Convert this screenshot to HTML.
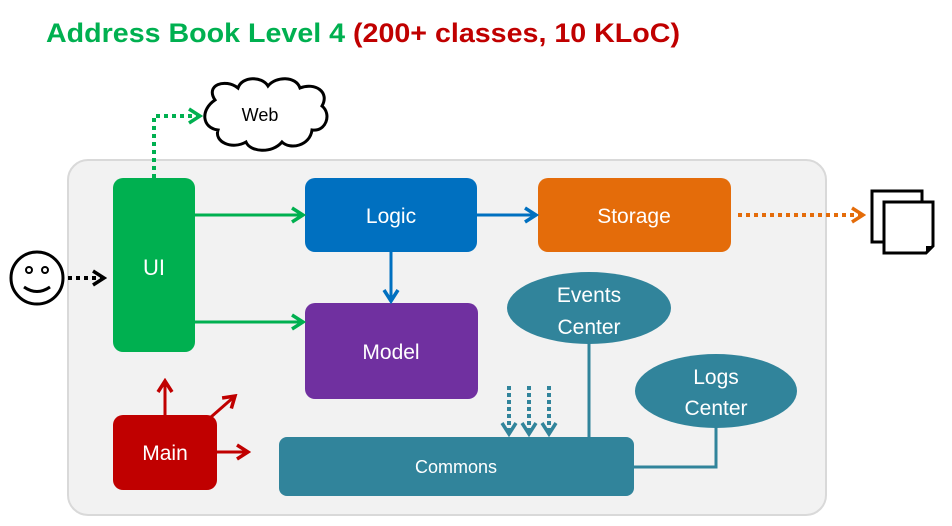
<!DOCTYPE html>
<html><head><meta charset="utf-8"><style>
html,body{margin:0;padding:0;background:#fff;}
svg{display:block;font-family:"Liberation Sans",sans-serif;}
</style></head><body>
<svg width="952" height="526" viewBox="0 0 952 526" xmlns="http://www.w3.org/2000/svg">
<defs>
<marker id="ag" markerWidth="16" markerHeight="18" refX="13" refY="9" orient="auto" markerUnits="userSpaceOnUse"><path d="M2,2 L13,9 L2,16" fill="none" stroke="#00b050" stroke-width="3.5"/></marker>
<marker id="ab" markerWidth="16" markerHeight="18" refX="13" refY="9" orient="auto" markerUnits="userSpaceOnUse"><path d="M2,2 L13,9 L2,16" fill="none" stroke="#0070c0" stroke-width="3.5"/></marker>
<marker id="ar" markerWidth="16" markerHeight="18" refX="13" refY="9" orient="auto" markerUnits="userSpaceOnUse"><path d="M2,2 L13,9 L2,16" fill="none" stroke="#c00000" stroke-width="3.5"/></marker>
<marker id="ao" markerWidth="16" markerHeight="18" refX="13" refY="9" orient="auto" markerUnits="userSpaceOnUse"><path d="M2,2 L13,9 L2,16" fill="none" stroke="#e46c0a" stroke-width="3.5"/></marker>
<marker id="ak" markerWidth="16" markerHeight="18" refX="13" refY="9" orient="auto" markerUnits="userSpaceOnUse"><path d="M2,2 L13,9 L2,16" fill="none" stroke="#000" stroke-width="3.5"/></marker>
<marker id="at" markerWidth="16" markerHeight="18" refX="13" refY="9" orient="auto" markerUnits="userSpaceOnUse"><path d="M2,2 L13,9 L2,16" fill="none" stroke="#31849b" stroke-width="3.5"/></marker>
</defs>
<text x="46" y="42" font-size="27" font-weight="bold" fill="#00b050" textLength="634" lengthAdjust="spacingAndGlyphs">Address Book Level 4 <tspan fill="#c00000">(200+ classes, 10 KLoC)</tspan></text>
<rect x="68" y="160" width="758" height="355" rx="20" fill="#f2f2f2" stroke="#d9d9d9" stroke-width="2"/>
<path d="M215,100 C205,85 225,78 238,88 C242,76 262,76 268,86 C276,76 296,76 300,88 C315,82 330,92 322,106 C332,114 326,132 312,130 C310,146 290,150 282,142 C272,154 250,152 246,142 C232,150 214,142 218,130 C202,128 200,110 215,100 Z" fill="#fff" stroke="#000" stroke-width="3"/>
<text x="260" y="121" font-size="18" text-anchor="middle">Web</text>
<path d="M154,178 L154,116 L200,116" fill="none" stroke="#00b050" stroke-width="4" stroke-dasharray="4,4" marker-end="url(#ag)"/>
<circle cx="37" cy="278" r="26" fill="#fff" stroke="#000" stroke-width="3"/>
<circle cx="29" cy="270" r="3" fill="none" stroke="#000" stroke-width="2"/>
<circle cx="45" cy="270" r="3" fill="none" stroke="#000" stroke-width="2"/>
<path d="M24,287 Q37,296 50,287" fill="none" stroke="#000" stroke-width="3"/>
<path d="M68,278 L104,278" stroke="#000" stroke-width="4" stroke-dasharray="4,4" marker-end="url(#ak)"/>
<rect x="113" y="178" width="82" height="174" rx="10" fill="#00b050"/>
<text x="154" y="275" font-size="22" fill="#fff" text-anchor="middle">UI</text>
<rect x="305" y="178" width="172" height="74" rx="10" fill="#0070c0"/>
<text x="391" y="223" font-size="21" fill="#fff" text-anchor="middle">Logic</text>
<rect x="538" y="178" width="193" height="74" rx="10" fill="#e46c0a"/>
<text x="634" y="223" font-size="21" fill="#fff" text-anchor="middle">Storage</text>
<rect x="305" y="303" width="173" height="96" rx="10" fill="#7030a0"/>
<text x="391" y="359" font-size="21" fill="#fff" text-anchor="middle">Model</text>
<rect x="113" y="415" width="104" height="75" rx="10" fill="#c00000"/>
<text x="165" y="460" font-size="21" fill="#fff" text-anchor="middle">Main</text>
<rect x="279" y="437" width="355" height="59" rx="8" fill="#31849b"/>
<text x="456" y="473" font-size="18" fill="#fff" text-anchor="middle">Commons</text>
<line x1="195" y1="215" x2="303" y2="215" stroke="#00b050" stroke-width="3" marker-end="url(#ag)"/>
<line x1="195" y1="322" x2="303" y2="322" stroke="#00b050" stroke-width="3" marker-end="url(#ag)"/>
<line x1="477" y1="215" x2="536" y2="215" stroke="#0070c0" stroke-width="3" marker-end="url(#ab)"/>
<line x1="391" y1="252" x2="391" y2="301" stroke="#0070c0" stroke-width="3" marker-end="url(#ab)"/>
<line x1="738" y1="215" x2="863" y2="215" stroke="#e46c0a" stroke-width="4" stroke-dasharray="4,4" marker-end="url(#ao)"/>
<line x1="165" y1="415" x2="165" y2="381" stroke="#c00000" stroke-width="3" marker-end="url(#ar)"/>
<line x1="211" y1="417" x2="235" y2="396" stroke="#c00000" stroke-width="3" marker-end="url(#ar)"/>
<line x1="217" y1="452" x2="248" y2="452" stroke="#c00000" stroke-width="3" marker-end="url(#ar)"/>
<line x1="509" y1="386" x2="509" y2="434" stroke="#31849b" stroke-width="4" stroke-dasharray="4,3" marker-end="url(#at)"/>
<line x1="529" y1="386" x2="529" y2="434" stroke="#31849b" stroke-width="4" stroke-dasharray="4,3" marker-end="url(#at)"/>
<line x1="549" y1="386" x2="549" y2="434" stroke="#31849b" stroke-width="4" stroke-dasharray="4,3" marker-end="url(#at)"/>
<line x1="589" y1="340" x2="589" y2="437" stroke="#31849b" stroke-width="3"/>
<path d="M634,467 L716,467 L716,425" fill="none" stroke="#31849b" stroke-width="3"/>
<ellipse cx="589" cy="308" rx="82" ry="36" fill="#31849b"/>
<text x="589" y="302" font-size="21" fill="#fff" text-anchor="middle">Events</text>
<text x="589" y="334" font-size="21" fill="#fff" text-anchor="middle">Center</text>
<ellipse cx="716" cy="391" rx="81" ry="37" fill="#31849b"/>
<text x="716" y="384" font-size="21" fill="#fff" text-anchor="middle">Logs</text>
<text x="716" y="415" font-size="21" fill="#fff" text-anchor="middle">Center</text>
<rect x="872" y="191" width="50" height="51" fill="#fff" stroke="#000" stroke-width="3"/>
<path d="M884,202 L933,202 L933,246 L926,253 L884,253 Z" fill="#fff" stroke="#000" stroke-width="3"/>
<path d="M933,246 L926,246 L926,253 Z" fill="#000"/>
</svg>
</body></html>
